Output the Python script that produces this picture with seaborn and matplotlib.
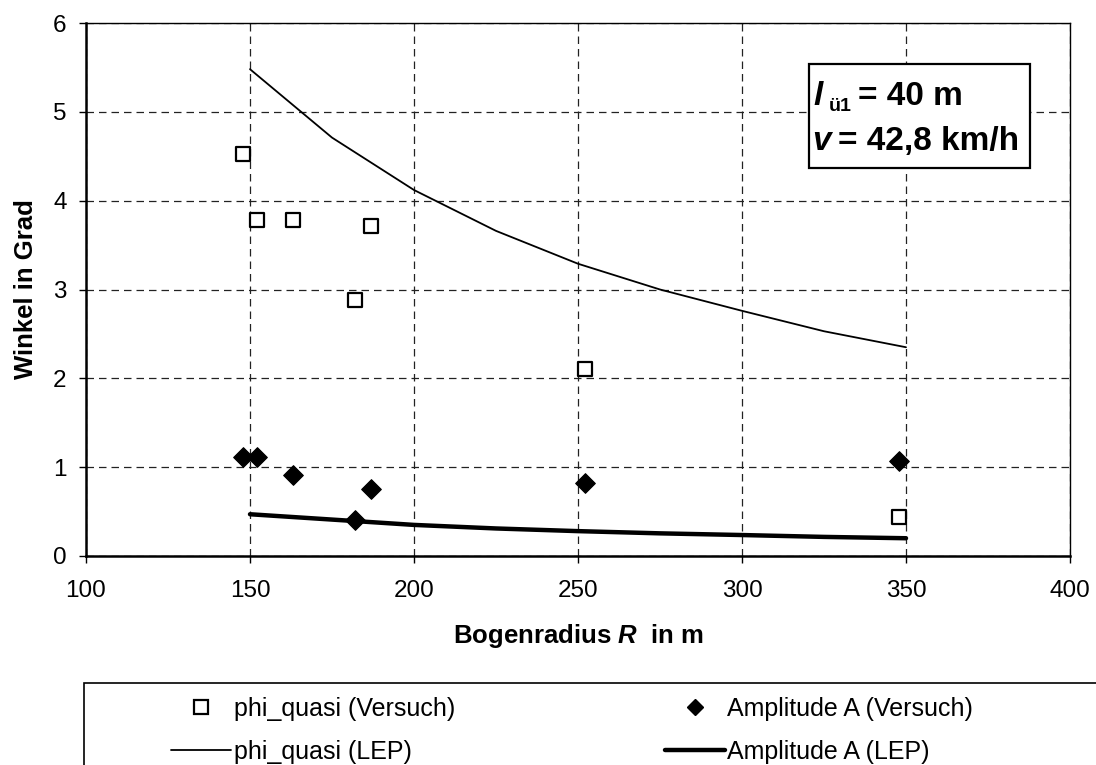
import matplotlib
matplotlib.use("Agg")
import matplotlib.pyplot as plt
import seaborn as sns
import pandas as pd
from matplotlib.patches import Rectangle
from matplotlib.lines import Line2D

# ---- data ----
radius_exp = [148, 152, 163, 187, 182, 252, 348]
phi_exp = [4.52, 3.78, 3.78, 3.71, 2.88, 2.11, 0.44]
amp_exp = [1.11, 1.11, 0.91, 0.75, 0.40, 0.82, 1.07]

radius_lep = [150, 175, 200, 225, 250, 275, 300, 325, 350]
phi_lep = [5.48, 4.71, 4.12, 3.66, 3.29, 3.00, 2.76, 2.53, 2.35]
amp_lep = [0.47, 0.41, 0.35, 0.31, 0.28, 0.255, 0.236, 0.215, 0.20]

xticks = [100, 150, 200, 250, 300, 350, 400]
yticks = [0, 1, 2, 3, 4, 5, 6]
legend_labels = ["phi_quasi (Versuch)", "phi_quasi (LEP)",
                 "Amplitude A (Versuch)", "Amplitude A (LEP)"]

df_exp = pd.DataFrame({"R": radius_exp, "phi": phi_exp, "A": amp_exp})
df_lep = pd.DataFrame({"R": radius_lep, "phi": phi_lep, "A": amp_lep})

sns.set_style("white")
plt.rcParams["font.family"] = ["Liberation Sans", "DejaVu Sans"]
plt.rcParams["mathtext.fontset"] = "custom"
plt.rcParams["mathtext.rm"] = "Liberation Sans:bold"
plt.rcParams["mathtext.it"] = "Liberation Sans:bold:italic"
plt.rcParams["mathtext.bf"] = "Liberation Sans:bold"
for k in ["text.color", "axes.labelcolor", "xtick.color", "ytick.color"]:
    plt.rcParams[k] = "black"

W, H = 1096, 765
fig = plt.figure(figsize=(W/100, H/100), dpi=100)
ax = fig.add_axes([86/W, 1-556/H, (1070-86)/W, (556-23)/H])

def fx(px):
    return px / W

def fy(py):
    return 1 - py / H

sns.lineplot(data=df_lep, x="R", y="phi", ax=ax, color="black", lw=1.3, zorder=3)
sns.lineplot(data=df_lep, x="R", y="A", ax=ax, color="black", lw=3.2, zorder=3,
             solid_capstyle="round")
sns.scatterplot(data=df_exp, x="R", y="phi", ax=ax, marker="s", s=110,
                facecolor="white", edgecolor="black", linewidth=1.6, zorder=4)
sns.scatterplot(data=df_exp, x="R", y="A", ax=ax, marker="D", s=100,
                color="black", edgecolor="black", linewidth=0.8, zorder=4)

ax.set_xlim(100, 400)
ax.set_ylim(0, 6)
ax.set_xticks(xticks)
ax.set_yticks(yticks)
ax.tick_params(axis="both", labelsize=17.5, direction="out", length=5, width=1.0,
               colors="black", bottom=True, left=True)
ax.tick_params(axis="x", pad=12)
ax.tick_params(axis="y", pad=9)
ax.grid(True, color="#222222", linestyle=(0, (6, 4)), linewidth=0.9)
for s in ["top", "right"]:
    ax.spines[s].set_color("black")
    ax.spines[s].set_linewidth(1.0)
for s in ["left", "bottom"]:
    ax.spines[s].set_color("black")
    ax.spines[s].set_linewidth(1.8)

ax.set_xlabel(r"Bogenradius $R$  in m", fontsize=18.5, fontweight="bold")
ax.set_ylabel("Winkel in Grad", fontsize=18.5, fontweight="bold")
ax.xaxis.set_label_coords(0.5, (556-622)/533)
ax.yaxis.set_label_coords((38-86)/984, 0.5)

# annotation box
fig.patches.append(Rectangle((fx(809), fy(168)), (1030-809)/W, (168-64)/H,
                             transform=fig.transFigure, facecolor="white",
                             edgecolor="black", linewidth=1.6, zorder=5))
tkw = dict(fontsize=24, fontweight="bold", va="baseline", ha="left", zorder=6)
fig.text(fx(813), fy(105), "l", style="italic", **tkw)
fig.text(fx(829), fy(111), "ü1", fontsize=14, fontweight="bold", va="baseline",
         ha="left", zorder=6)
fig.text(fx(858), fy(105), "= 40 m", **tkw)
fig.text(fx(812), fy(150), "v", style="italic", **tkw)
fig.text(fx(838), fy(150), "= 42,8 km/h", **tkw)

# legend frame
fig.patches.append(Rectangle((fx(84), -0.5), 2, 0.5 + fy(683),
                             transform=fig.transFigure, facecolor="white",
                             edgecolor="black", linewidth=1.2, zorder=0))

handles = [
    Line2D([], [], marker="s", linestyle="none", markersize=9.5, markerfacecolor="white",
           markeredgecolor="black", markeredgewidth=1.6),
    Line2D([], [], color="black", lw=1.3),
    Line2D([], [], marker="D", linestyle="none", markersize=8.6, color="black"),
    Line2D([], [], color="black", lw=3.2),
]
leg = fig.legend(handles, legend_labels, ncol=2, loc="upper left",
                 bbox_to_anchor=(fx(171), fy(697)), frameon=False, fontsize=18,
                 handlelength=2.4, handletextpad=0.1, columnspacing=8.4,
                 labelspacing=0.75, borderaxespad=0, borderpad=0)

fig.savefig("out.png", dpi=100)
